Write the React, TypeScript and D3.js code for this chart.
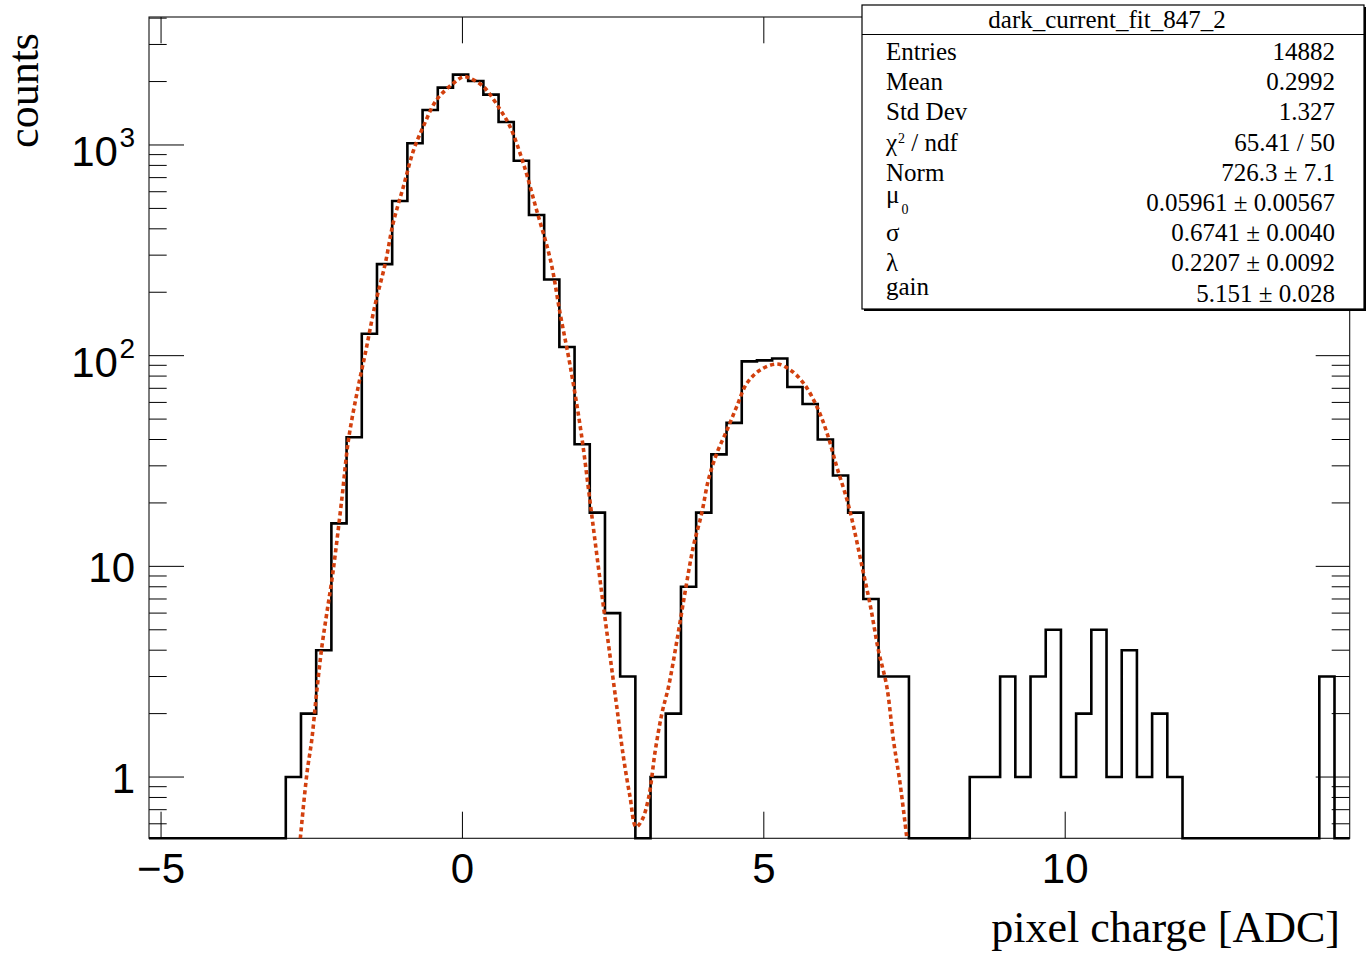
import React from "react";
import * as d3 from "d3";

// ---------- data ----------
const X_MIN = -5.2;
const X_MAX = 14.72;
const Y_MIN = 0.512;
const Y_MAX = 4050;

// bin contents (79 equal bins from X_MIN to X_MAX)
const counts = [
  0, 0, 0, 0, 0, 0, 0, 0, 0,
  1, 2, 4, 16, 41, 127, 272, 542, 1019, 1466, 1871,
  2157, 2013, 1733, 1285, 842, 465, 230, 110, 38, 18,
  6, 3, 0, 1, 2, 8, 18, 34, 48, 94,
  95, 97, 71, 59, 40, 27, 18, 7, 3, 3,
  0, 0, 0, 0, 1, 1, 3, 1, 3, 5,
  1, 2, 5, 1, 4, 1, 2, 1, 0, 0,
  0, 0, 0, 0, 0, 0, 0, 3, 0,
];

// fit curve
const fitX = [
  -2.69, -2.58, -2.5, -2.42, -2.33, -2.25, -2.15, -2.0, -1.89, -1.73,
  -1.61, -1.45, -1.28, -1.15, -0.98, -0.81, -0.65, -0.43, -0.15, 0.02,
  0.13, 0.35, 0.63, 0.79, 1.01, 1.23, 1.46, 1.62, 1.79, 1.97,
  2.12, 2.23, 2.34, 2.45, 2.56, 2.67, 2.78, 2.88, 2.98, 3.09,
  3.2, 3.31, 3.42, 3.56, 3.7, 3.83, 3.97, 4.08, 4.22, 4.39,
  4.55, 4.72, 4.94, 5.22, 5.44, 5.66, 5.88, 6.05, 6.21, 6.38,
  6.49, 6.63, 6.77, 6.9, 7.04, 7.15, 7.26, 7.37,
];
const fitY = [
  0.51, 1.04, 1.5, 2.5, 4.2, 6.0, 9.3, 21, 40, 71,
  103, 174, 274, 425, 634, 946, 1222, 1635, 1963, 2110,
  2073, 1891, 1466, 1222, 819, 491, 285, 159, 88.7, 43,
  20, 11.3, 6.44, 3.73, 2.16, 1.25, 0.807, 0.58, 0.626, 0.8,
  1.34, 2.01, 2.69, 4.47, 7.73, 12.4, 17.9, 25.7, 34.4, 44.4,
  57.3, 74.0, 85.5, 91.3, 85.5, 74, 57.3, 42.8, 29.7, 20.7,
  15.4, 9.97, 6.44, 4.01, 2.69, 1.5, 0.935, 0.521,
];

const xTicks = [-5, 0, 5, 10];
const xTickLabels = ["\u22125", "0", "5", "10"];
const yDecades = [1, 10, 100, 1000];
const yDecadeBase = ["1", "10", "10", "10"];
const yDecadeExp = ["", "", "2", "3"];

const xTitle = "pixel charge [ADC]";
const yTitle = "counts";

const statsTitle = "dark_current_fit_847_2";
const statsValues = [
  "14882",
  "0.2992",
  "1.327",
  "65.41 / 50",
  "726.3 \u00b1 7.1",
  "0.05961 \u00b1 0.00567",
  "0.6741 \u00b1 0.0040",
  "0.2207 \u00b1 0.0092",
  "5.151 \u00b1 0.028",
];

// ---------- layout ----------
const W = 1369;
const H = 957;
const L = 149;
const R = 1349.7;
const T = 17;
const B = 838.3;

const SANS = "'Liberation Sans', Arial, Helvetica, sans-serif";
const SERIF = "'Liberation Serif', 'Times New Roman', Times, serif";

export default function App() {
  const x = d3.scaleLinear().domain([X_MIN, X_MAX]).range([L, R]);
  const y = d3.scaleLog().domain([Y_MIN, Y_MAX]).range([B, T]);

  const binW = (X_MAX - X_MIN) / counts.length;
  let histPath = `M${x(X_MIN)},${B}`;
  counts.forEach((c, i) => {
    const x0 = x(X_MIN + i * binW);
    const x1 = x(X_MIN + (i + 1) * binW);
    const yy = c > 0 ? y(c) : B;
    histPath += `L${x0},${yy}L${x1},${yy}`;
  });
  histPath += `L${x(X_MAX)},${B}`;

  const idx = fitX.map((_, i) => i);
  const fitPath =
    d3
      .line<number>()
      .x((i) => x(fitX[i]))
      .y((i) => y(fitY[i]))
      .curve(d3.curveCatmullRom.alpha(0.5))(idx) || "";

  // log minor ticks
  const minor: number[] = [];
  [0.1, 1, 10, 100, 1000].forEach((d) => {
    for (let m = 2; m <= 9; m++) {
      const v = m * d;
      if (v >= Y_MIN && v <= Y_MAX) minor.push(v);
    }
  });

  const rowBase = [60, 90.2, 120.4, 150.6, 180.8, 211, 241.2, 271.4, 301.6];
  const lx = 886;
  const rx = 1335;
  const fs = 25;

  return (
    <svg
      width={W}
      height={H}
      style={{ position: "absolute", left: 0, top: 0, background: "#fff" }}
    >
      <defs>
        <clipPath id="frameClip">
          <rect x={L} y={T} width={R - L} height={B - T} />
        </clipPath>
      </defs>
      <rect x={0} y={0} width={W} height={H} fill="#fff" />

      {/* y ticks */}
      {yDecades.map((v) => (
        <g key={"yM" + v}>
          <line x1={L} x2={L + 35} y1={y(v)} y2={y(v)} stroke="#000" strokeWidth={1} />
          <line x1={R} x2={R - 34} y1={y(v)} y2={y(v)} stroke="#000" strokeWidth={1} />
        </g>
      ))}
      {minor.map((v) => (
        <g key={"ym" + v}>
          <line x1={L} x2={L + 17.7} y1={y(v)} y2={y(v)} stroke="#000" strokeWidth={1} />
          <line x1={R} x2={R - 18} y1={y(v)} y2={y(v)} stroke="#000" strokeWidth={1} />
        </g>
      ))}
      {/* x ticks */}
      {xTicks.map((t) => (
        <g key={"xt" + t}>
          <line x1={x(t)} x2={x(t)} y1={B} y2={B - 26.6} stroke="#000" strokeWidth={1} />
          <line x1={x(t)} x2={x(t)} y1={T} y2={T + 26.3} stroke="#000" strokeWidth={1} />
        </g>
      ))}

      {/* frame */}
      <rect x={L} y={T} width={R - L} height={B - T} fill="none" stroke="#111" strokeWidth={1.1} />

      {/* histogram */}
      <path d={histPath} fill="none" stroke="#000" strokeWidth={2.6} strokeLinejoin="miter" />

      {/* fit */}
      <g clipPath="url(#frameClip)">
        <path
          d={fitPath}
          fill="none"
          stroke="#d2400e"
          strokeWidth={3.6}
          strokeDasharray="4.2 3.2"
        />
      </g>

      {/* x tick labels */}
      {xTicks.map((t, i) => (
        <text
          key={"xl" + t}
          x={x(t)}
          y={883}
          textAnchor="middle"
          fontFamily={SANS}
          fontSize={42}
          fill="#000"
        >
          {xTickLabels[i]}
        </text>
      ))}

      {/* y tick labels */}
      {yDecades.map((v, i) => (
        <text
          key={"yl" + v}
          x={135}
          y={y(v) + (yDecadeExp[i] ? 21 : 16)}
          textAnchor="end"
          fontFamily={SANS}
          fontSize={42}
          fill="#000"
        >
          {yDecadeBase[i]}
          {yDecadeExp[i] ? (
            <tspan dx={1.5} dy={-19} fontSize={28}>
              {yDecadeExp[i]}
            </tspan>
          ) : null}
        </text>
      ))}

      {/* axis titles */}
      <text
        x={1340}
        y={942}
        textAnchor="end"
        fontFamily={SERIF}
        fontSize={44}
        fill="#000"
      >
        {xTitle}
      </text>
      <text
        transform="translate(38,33) rotate(-90)"
        textAnchor="end"
        fontFamily={SERIF}
        fontSize={44}
        fill="#000"
      >
        {yTitle}
      </text>

      {/* stats box */}
      <rect x={864} y={7} width={502} height={304} fill="#000" />
      <rect x={862} y={5} width={502} height={304} fill="#fff" stroke="#000" strokeWidth={1.2} />
      <line x1={862} x2={1364} y1={34.5} y2={34.5} stroke="#000" strokeWidth={1.2} />
      <text x={1107} y={28} textAnchor="middle" fontFamily={SERIF} fontSize={fs} fill="#000">
        {statsTitle}
      </text>
      <g fontFamily={SERIF} fontSize={fs} fill="#000">
        <text x={lx} y={rowBase[0]}>Entries</text>
        <text x={lx} y={rowBase[1]}>Mean</text>
        <text x={lx} y={rowBase[2]}>Std Dev</text>
        <text x={lx} y={rowBase[3]}>
          {"\u03c7"}
          <tspan dx={1} dy={-8} fontSize={14}>2</tspan>
          <tspan dy={8}>{" / ndf"}</tspan>
        </text>
        <text x={lx} y={rowBase[4]}>Norm</text>
        <text x={lx} y={203}>
          {"\u03bc"}
          <tspan dx={2} dy={11} fontSize={14}>0</tspan>
        </text>
        <text x={lx} y={rowBase[6]}>{"\u03c3"}</text>
        <text x={lx} y={rowBase[7]}>{"\u03bb"}</text>
        <text x={lx} y={295}>gain</text>
        {statsValues.map((v, i) => (
          <text key={"sv" + i} x={rx} y={rowBase[i]} textAnchor="end">
            {v}
          </text>
        ))}
      </g>
    </svg>
  );
}
